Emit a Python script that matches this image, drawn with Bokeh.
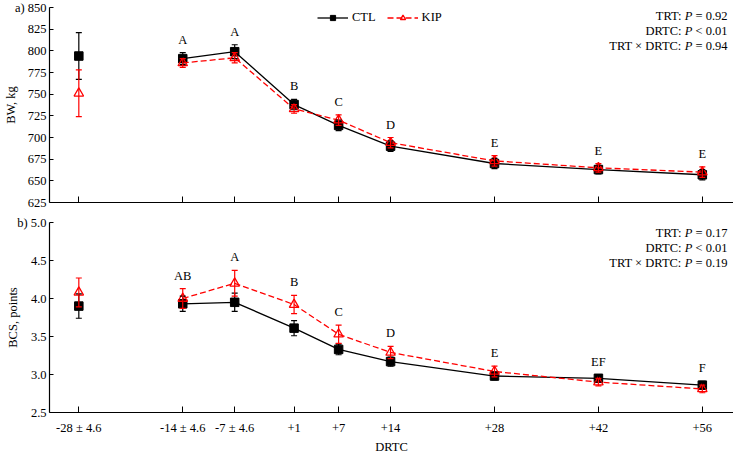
from bokeh.plotting import figure
from bokeh.layouts import column
from bokeh.models import (ColumnDataSource, Whisker, TeeHead, Label, Legend, LegendItem,
                          FixedTicker, PrintfTickFormatter, Range1d)
from bokeh.core.properties import value
from bokeh.embed import file_html
from bokeh.resources import INLINE

# ---------------- data ----------------
days = [-28, -14, -7, 1, 7, 14, 28, 42, 56]
day_labels = ["-28 ± 4.6", "-14 ± 4.6", "-7 ± 4.6", "+1", "+7", "+14", "+28", "+42", "+56"]

bw_ctl = [794, 791, 799, 738, 714, 690, 670, 663, 657]
bw_ctl_se = [27, 7, 8, 6, 6, 6, 6, 5, 6]
bw_kip = [751, 786, 792, 733, 720, 694, 673, 665, 660]
bw_kip_se = [27, 5, 6, 5, 6, 6, 6, 5, 6]
bw_letters = ["", "A", "A", "B", "C", "D", "E", "E", "E"]
bw_ticks = [625, 650, 675, 700, 725, 750, 775, 800, 825, 850]
bw_pvalues = [("TRT:", "= 0.92"), ("DRTC:", "< 0.01"), ("TRT × DRTC:", "= 0.94")]

bcs_ctl = [3.90, 3.93, 3.95, 3.61, 3.33, 3.17, 2.98, 2.95, 2.86]
bcs_ctl_se = [0.16, 0.10, 0.12, 0.10, 0.07, 0.06, 0.05, 0.05, 0.05]
bcs_kip = [4.08, 4.00, 4.20, 3.92, 3.53, 3.29, 3.04, 2.90, 2.81]
bcs_kip_se = [0.19, 0.13, 0.17, 0.12, 0.12, 0.08, 0.07, 0.05, 0.05]
bcs_letters = ["", "AB", "A", "B", "C", "D", "E", "EF", "F"]
bcs_ticks = [2.5, 3.0, 3.5, 4.0, 4.5, 5.0]
bcs_tick_labels = ["2.5", "3.0", "3.5", "4.0", "4.5", "5.0"]
bcs_pvalues = [("TRT:", "= 0.17"), ("DRTC:", "< 0.01"), ("TRT × DRTC:", "= 0.19")]

FONT = "Liberation Serif"
FS = 12.5
X_START, X_END = -31.95, 60.2

EM = {" ": 0.25, ".": 0.25, "=": 0.564, "<": 0.564, "P": 0.611}


def text_w(s):
    return sum(EM.get(c, 0.5) for c in s) * FS


def panel(height, y_start, y_end, yticks, ytick_labels, ylabel, ctl, ctl_se, kip, kip_se,
          letters, pvals, tag, top, bottom, p_top, show_xlabels=False, width=733):
    p = figure(width=width, height=height, x_range=Range1d(X_START, X_END),
               y_range=Range1d(y_start, y_end), output_backend="svg",
               toolbar_location=None, min_border_left=46, min_border_right=0,
               min_border_top=top, min_border_bottom=bottom)
    p.outline_line_color = None
    p.xgrid.visible = False
    p.ygrid.visible = False
    p.background_fill_color = "white"
    p.border_fill_color = "white"

    # x axis
    p.xaxis.ticker = FixedTicker(ticks=days)
    p.xaxis.major_label_overrides = {d: l for d, l in zip(days, day_labels)}
    p.xaxis.major_tick_in = 6
    p.xaxis.major_tick_out = 0
    p.xaxis.minor_tick_line_color = None
    p.xaxis.axis_line_color = "black"
    p.xaxis.major_tick_line_color = "black"
    p.xaxis.axis_line_width = 1.2
    if show_xlabels:
        p.xaxis.major_label_text_font = FONT
        p.xaxis.major_label_text_font_size = f"{FS}px"
        p.xaxis.major_label_text_color = "black"
        p.xaxis.major_label_standoff = 8
        p.xaxis.axis_label = "DRTC"
        p.xaxis.axis_label_text_font = FONT
        p.xaxis.axis_label_text_font_size = f"{FS}px"
        p.xaxis.axis_label_text_font_style = "normal"
        p.xaxis.axis_label_text_color = "black"
        p.xaxis.axis_label_standoff = 2
    else:
        p.xaxis.major_label_text_font_size = "1px"
        p.xaxis.major_label_text_color = None
        p.xaxis.major_label_standoff = 0

    # y axis (panel tag shares the row of the top tick label)
    p.yaxis.ticker = FixedTicker(ticks=yticks)
    overrides = {t: l for t, l in zip(yticks, ytick_labels)}
    overrides[yticks[-1]] = f"{tag} {ytick_labels[-1]}"
    p.yaxis.major_label_overrides = overrides
    p.yaxis.major_tick_in = 4
    p.yaxis.major_tick_out = 0
    p.yaxis.minor_tick_line_color = None
    p.yaxis.axis_line_color = "black"
    p.yaxis.major_tick_line_color = "black"
    p.yaxis.axis_line_width = 1.2
    p.yaxis.major_label_text_font = FONT
    p.yaxis.major_label_text_font_size = f"{FS}px"
    p.yaxis.major_label_text_color = "black"
    p.yaxis.major_label_standoff = 3
    p.yaxis.axis_label = ylabel
    p.yaxis.axis_label_text_font = FONT
    p.yaxis.axis_label_text_font_size = f"{FS}px"
    p.yaxis.axis_label_text_font_style = "normal"
    p.yaxis.axis_label_text_color = "black"
    p.yaxis.axis_label_standoff = -6

    src_c = ColumnDataSource(dict(x=days, y=ctl,
                                  lo=[v - e for v, e in zip(ctl, ctl_se)],
                                  hi=[v + e for v, e in zip(ctl, ctl_se)]))
    src_k = ColumnDataSource(dict(x=days, y=kip,
                                  lo=[v - e for v, e in zip(kip, kip_se)],
                                  hi=[v + e for v, e in zip(kip, kip_se)]))

    # lines start at the first trial point (pre-trial point is not connected)
    l_c = p.line(days[1:], ctl[1:], line_color="black", line_width=1.3)
    p.add_layout(Whisker(source=src_c, base="x", upper="hi", lower="lo", line_color="black",
                         line_width=1.2, level="glyph",
                         upper_head=TeeHead(size=6, line_color="black", line_width=1.2),
                         lower_head=TeeHead(size=6, line_color="black", line_width=1.2)))
    m_c = p.scatter("x", "y", source=src_c, marker="square", size=8.5,
                    fill_color="black", line_color="black")
    l_k = p.line(days[1:], kip[1:], line_color="red", line_width=1.3, line_dash="6 3")
    p.add_layout(Whisker(source=src_k, base="x", upper="hi", lower="lo", line_color="red",
                         line_width=1.2, level="glyph",
                         upper_head=TeeHead(size=6, line_color="red", line_width=1.2),
                         lower_head=TeeHead(size=6, line_color="red", line_width=1.2)))
    m_k = p.scatter("x", "y", source=src_k, marker="triangle", size=9.5,
                    fill_alpha=0, line_color="red", line_width=1.3)

    # significance letters above the highest error bar
    tops = [max(a + b, c + d) for a, b, c, d in zip(ctl, ctl_se, kip, kip_se)]
    keep = [i for i, t in enumerate(letters) if t]
    src_l = ColumnDataSource(dict(x=[days[i] for i in keep], y=[tops[i] for i in keep],
                                  t=[letters[i] for i in keep]))
    p.text("x", "y", text="t", source=src_l, text_font=value(FONT),
           text_font_size=f"{FS}px", text_align="center", text_baseline="middle",
           y_offset=-13, text_color="black")

    # P-values, top right (italic P)
    for i, (pre, suf) in enumerate(pvals):
        yo = -(p_top + 15 * i)
        w_suf = text_w(suf)
        w_sp = text_w(" ")
        w_p = text_w("P")
        common = dict(x=X_END, y=y_end, y_offset=yo, text_baseline="middle",
                      text_align="right", text_font=FONT, text_font_size=f"{FS}px",
                      text_color="black")
        p.add_layout(Label(text=suf, x_offset=-6, **common))
        p.add_layout(Label(text="P", x_offset=-6 - w_suf - w_sp, text_font_style="italic",
                           **common))
        p.add_layout(Label(text=pre, x_offset=-6 - w_suf - 2 * w_sp - w_p, **common))
    return p, (l_c, m_c, l_k, m_k)


p1, rs = panel(212, 625, 850, bw_ticks, [str(t) for t in bw_ticks], "BW, kg",
               bw_ctl, bw_ctl_se, bw_kip, bw_kip_se, bw_letters, bw_pvalues, "a)",
               top=7, bottom=10, p_top=8)
l_c, m_c, l_k, m_k = rs
lg = Legend(items=[LegendItem(label="CTL", renderers=[l_c, m_c]),
                   LegendItem(label="KIP", renderers=[l_k, m_k])],
            location=(268, 177), orientation="horizontal",
            glyph_width=31, glyph_height=13, label_standoff=4, spacing=11,
            padding=0, margin=0, border_line_alpha=0,
            background_fill_alpha=0, label_text_font=FONT,
            label_text_font_size=f"{FS}px", label_text_color="black",
            label_height=16)
p1.add_layout(lg)

p2, _ = panel(244, 2.5, 5.0, bcs_ticks, bcs_tick_labels, "BCS, points",
              bcs_ctl, bcs_ctl_se, bcs_kip, bcs_kip_se, bcs_letters, bcs_pvalues, "b)",
              top=10, bottom=43, p_top=10, show_xlabels=True)

layout = column(p1, p2, spacing=0)
open("out.html", "w").write(file_html(layout, INLINE))
